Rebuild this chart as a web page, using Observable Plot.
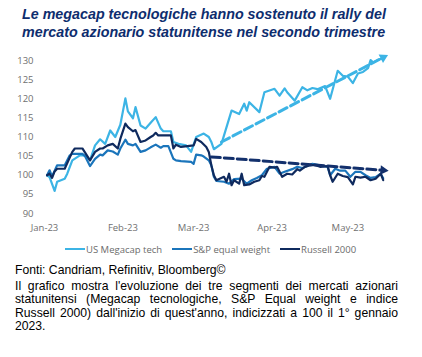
<!DOCTYPE html>
<html><head><meta charset="utf-8">
<script src="https://cdn.jsdelivr.net/npm/d3@7"></script>
<script src="https://cdn.jsdelivr.net/npm/@observablehq/plot@0.6"></script>
<style>
body{margin:0;background:#fff;width:422px;height:357px;overflow:hidden;}
#title{font-family:"Liberation Sans",Arial,sans-serif;font-weight:bold;font-style:italic;font-size:14.3px;line-height:18px;color:#0e2d6e;padding:5px 0 0 22px;height:45px;box-sizing:border-box;white-space:nowrap;}
#chart svg{display:block;}
#legend{display:flex;align-items:center;padding-left:65px;margin-top:5px;height:12px;font-family:"Open Sans",sans-serif;font-size:9.5px;color:#6b6b6b;}
#legend .item{display:flex;align-items:center;margin-right:10px;}
#legend .sw{width:20px;height:2.5px;margin-right:1px;}
#caption{font-family:"Liberation Sans",Arial,sans-serif;font-size:12.2px;line-height:13.6px;color:#000;padding:9px 24px 0 15px;}
#caption .j{display:block;text-align:justify;text-align-last:justify;white-space:nowrap;}
#caption .first{margin-bottom:2px;}
</style></head>
<body>
<div id="title">Le megacap tecnologiche hanno sostenuto il rally del<br>mercato azionario statunitense nel secondo trimestre</div>
<div id="chart"></div>
<div id="legend"></div>
<div id="caption">
<div class="first">Fonti: Candriam, Refinitiv, Bloomberg©</div>
<span class="j">Il grafico mostra l'evoluzione dei tre segmenti dei mercati azionari</span>
<span class="j">statunitensi (Megacap tecnologiche, S&amp;P Equal weight e indice</span>
<span class="j">Russell 2000) dall'inizio di quest'anno, indicizzati a 100 il 1° gennaio</span>
<span>2023.</span>
</div>
<script>
const seriesNames = ["US Megacap tech", "S&P equal weight", "Russell 2000"];
const seriesColors = ["#3cb4e5", "#1b75bb", "#0f2a5e"];

const megaDates = ["2023-01-02","2023-01-03","2023-01-05","2023-01-06","2023-01-09","2023-01-10","2023-01-12","2023-01-15","2023-01-17","2023-01-19","2023-01-21","2023-01-23","2023-01-25","2023-01-27","2023-01-29","2023-01-31",
"2023-02-02","2023-02-03","2023-02-05","2023-02-06","2023-02-08","2023-02-10","2023-02-12","2023-02-14","2023-02-16","2023-02-17","2023-02-20","2023-02-21","2023-02-23","2023-02-26","2023-02-28",
"2023-03-02","2023-03-05","2023-03-07","2023-03-08","2023-03-09","2023-03-12","2023-03-16","2023-03-19","2023-03-21","2023-03-22","2023-03-23","2023-03-27","2023-03-29",
"2023-04-02","2023-04-04","2023-04-06","2023-04-07","2023-04-10","2023-04-13","2023-04-15","2023-04-17","2023-04-19","2023-04-22","2023-04-24","2023-04-27","2023-04-29",
"2023-05-01","2023-05-03","2023-05-05","2023-05-07","2023-05-09","2023-05-10","2023-05-11","2023-05-13","2023-05-15"];
const megaValues = [100,99.5,95.9,98.3,99.1,100.4,103.9,105.2,105.2,103.9,107.8,109.4,108.2,111.7,110,113.2,
120.1,116.7,114.9,117.8,113,112.2,113.7,115.2,112.2,111.5,111.5,108.7,108.2,107.8,106.1,
110,110.9,110,108.7,106.8,108.2,116.9,116,118.7,116.9,119.1,116.5,121.7,
122.6,120.8,122.7,121.7,119.5,123,122.2,122.8,122.5,123.3,120,127.3,126,
125.8,124.1,126.6,127,128,130.1,129.5,130.2,130.6];

const spewDates = ["2023-01-02","2023-01-03","2023-01-04","2023-01-06","2023-01-09","2023-01-11","2023-01-12","2023-01-16","2023-01-17","2023-01-19","2023-01-21","2023-01-23","2023-01-24","2023-01-26","2023-01-28","2023-01-30","2023-01-31",
"2023-02-02","2023-02-03","2023-02-05","2023-02-06","2023-02-08","2023-02-10","2023-02-12","2023-02-14","2023-02-16","2023-02-17","2023-02-19","2023-02-21","2023-02-22","2023-02-24","2023-02-28",
"2023-03-01","2023-03-02","2023-03-04","2023-03-05","2023-03-07","2023-03-08","2023-03-09","2023-03-10","2023-03-13","2023-03-15","2023-03-17","2023-03-20","2023-03-22","2023-03-24","2023-03-26","2023-03-28","2023-03-30",
"2023-04-02","2023-04-04","2023-04-06","2023-04-09","2023-04-11","2023-04-13","2023-04-15","2023-04-17","2023-04-20","2023-04-23","2023-04-24","2023-04-26","2023-04-28","2023-04-30",
"2023-05-02","2023-05-04","2023-05-06","2023-05-08","2023-05-10","2023-05-12","2023-05-14","2023-05-15"];
const spewValues = [100,101.3,99.7,102.6,102.6,105.2,105.6,105.6,105,102.4,104.3,105.4,105.2,106.5,106.2,105.4,107,
109.3,108.2,107.8,108.2,106.1,106.5,107.3,108,107.2,107.6,107.6,104.3,103.9,103.7,103.5,
103,105.4,105.2,104.9,103.9,102.6,99.6,98.5,98.3,97.8,99,99.1,97.8,98.7,99.3,100,101.7,
102.2,100.4,100.9,101.6,102.2,101.9,102.4,103,102.6,102.2,100,101.7,101.2,101.2,
99.6,100.9,100.9,100,99.3,99.5,100.4,99.2];

const russDates = ["2023-01-02","2023-01-03","2023-01-04","2023-01-05","2023-01-06","2023-01-09","2023-01-12","2023-01-13","2023-01-16","2023-01-17","2023-01-19","2023-01-21","2023-01-23","2023-01-24","2023-01-26","2023-01-28","2023-01-30","2023-01-31",
"2023-02-02","2023-02-03","2023-02-05","2023-02-06","2023-02-08","2023-02-10","2023-02-12","2023-02-13","2023-02-14","2023-02-15","2023-02-20","2023-02-21","2023-02-22","2023-02-24",
"2023-03-01","2023-03-02","2023-03-04","2023-03-06","2023-03-07","2023-03-08","2023-03-09","2023-03-10","2023-03-13","2023-03-14","2023-03-15","2023-03-16","2023-03-17","2023-03-19","2023-03-20","2023-03-21","2023-03-23","2023-03-25","2023-03-27","2023-03-28","2023-03-29","2023-03-31",
"2023-04-02","2023-04-03","2023-04-05","2023-04-07","2023-04-09","2023-04-11","2023-04-12","2023-04-14","2023-04-16","2023-04-18","2023-04-20","2023-04-23","2023-04-24","2023-04-25","2023-04-27","2023-04-29",
"2023-05-01","2023-05-03","2023-05-04","2023-05-06","2023-05-08","2023-05-10","2023-05-12","2023-05-14","2023-05-15"];
const russValues = [100,100.4,99.3,101,101.7,101.7,106.1,107,107,106,103.9,106.1,107,107,107.8,108.2,107,109.5,
113.5,112.6,111.5,111.8,108.7,109.1,110,110.4,111.1,110.4,110.4,107,108,107.4,
107.8,109.5,108.7,107.4,106.1,102.6,100,98.7,99.6,98.3,100.4,97.4,98.7,97.8,100.4,97.4,97.6,98.3,98.7,99.8,99.6,102.2,
102,102.2,99.6,100.4,100.2,101.6,101.2,102.2,102.6,102.7,102.2,102.4,100,98.3,100.4,99.8,
99.5,97.6,99.6,99.4,99.6,98.7,99.1,100.4,98.7];

const trendMegaDates = ["2023-03-12","2023-05-15"];
const trendMegaValues = [108.7, 130.8];
const trendRussDates = ["2023-03-08","2023-05-15"];
const trendRussValues = [104.8, 101.3];
const trendColors = ["#3cb4e5", "#13306c"];

const monthTicks = ["2023-01-01","2023-02-01","2023-03-01","2023-04-01","2023-05-01"];
const yTicks = [90,95,100,105,110,115,120,125,130];
const xDomainDates = ["2023-01-01","2023-05-25"];
const yDomain = [90,130];

const W = 422, H = 193, mL = 44, mR = 14, mT = 15, mB = 25;
const xDomain = xDomainDates.map(d => new Date(d));

function rows(dates, values) { return dates.map((d, i) => ({date: new Date(d), value: values[i]})); }
const mega = rows(megaDates, megaValues);
const spew = rows(spewDates, spewValues);
const russ = rows(russDates, russValues);
const tMega = rows(trendMegaDates, trendMegaValues);
const tRuss = rows(trendRussDates, trendRussValues);

// helper scales mirroring the plot's, only to orient arrowheads
const xs = d3.scaleUtc().domain(xDomain).range([mL, W - mR]);
const ys = d3.scaleLinear().domain(yDomain).range([H - mB, mT]);
function angle(t) {
  const a = t[0], b = t[t.length - 1];
  return Math.atan2(ys(b.value) - ys(a.value), xs(b.date) - xs(a.date)) * 180 / Math.PI + 90;
}

const plot = Plot.plot({
  width: W, height: H, marginLeft: mL, marginRight: mR, marginTop: mT, marginBottom: mB,
  style: {fontFamily: "'Open Sans', sans-serif", fontSize: "9.5px", color: "#707070", background: "transparent"},
  x: {type: "utc", domain: xDomain, ticks: monthTicks.map(d => new Date(d)), tickFormat: d3.utcFormat("%b-%y"), tickSize: 0, tickPadding: 11, label: null},
  y: {domain: yDomain, ticks: yTicks, tickSize: 0, tickPadding: 11, label: null},
  marks: [
    Plot.line(mega, {x: "date", y: "value", stroke: seriesColors[0], strokeWidth: 2.2}),
    Plot.line(spew, {x: "date", y: "value", stroke: seriesColors[1], strokeWidth: 2.2}),
    Plot.line(russ, {x: "date", y: "value", stroke: seriesColors[2], strokeWidth: 2.2}),
    Plot.line(tMega, {x: "date", y: "value", stroke: trendColors[0], strokeWidth: 3, strokeDasharray: "9,4"}),
    Plot.line(tRuss, {x: "date", y: "value", stroke: trendColors[1], strokeWidth: 3, strokeDasharray: "9,4"}),
    Plot.dot([tMega[tMega.length - 1]], {x: "date", y: "value", symbol: "triangle2", r: 4.5, fill: trendColors[0], stroke: "none", rotate: angle(tMega)}),
    Plot.dot([tRuss[tRuss.length - 1]], {x: "date", y: "value", symbol: "triangle2", r: 4.5, fill: trendColors[1], stroke: "none", rotate: angle(tRuss)})
  ]
});
document.getElementById("chart").appendChild(plot);

const legend = document.getElementById("legend");
seriesNames.forEach((n, i) => {
  const it = document.createElement("div"); it.className = "item";
  const sw = document.createElement("div"); sw.className = "sw"; sw.style.background = seriesColors[i];
  const tx = document.createElement("span"); tx.textContent = n;
  it.appendChild(sw); it.appendChild(tx); legend.appendChild(it);
});
</script>
</body></html>
